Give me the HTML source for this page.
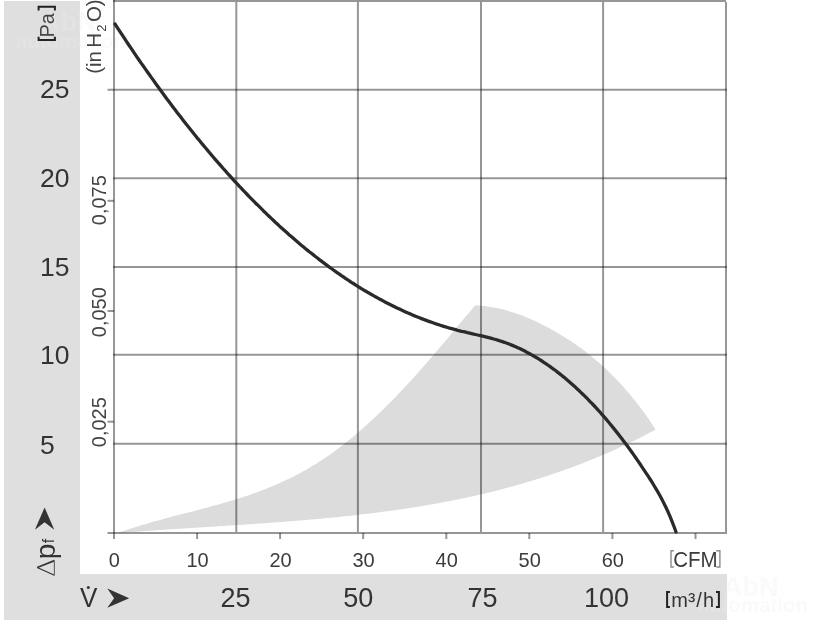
<!DOCTYPE html>
<html><head><meta charset="utf-8"><style>
html,body{margin:0;padding:0;background:#fff;width:816px;height:624px;overflow:hidden}
svg{display:block;will-change:transform}
text{font-family:"Liberation Sans",sans-serif}
</style></head><body>
<svg width="816" height="624" viewBox="0 0 816 624">
<rect x="4" y="1" width="76" height="619" fill="#dfdfdf"/>
<rect x="4" y="574" width="723" height="46" fill="#dfdfdf"/>
<g font-family="Liberation Sans" font-weight="bold" fill="#ececec" fill-opacity="0.28">
<text x="41" y="31" font-size="27">AbN</text>
<text x="16" y="48" font-size="20.4">automation</text>
<text x="723" y="596" font-size="27">AbN</text>
<text x="698" y="612" font-size="20.4">automation</text>
</g>
<path d="M118.0,533.0 L120.0,532.3 L122.0,531.6 L124.0,530.9 L126.0,530.2 L128.0,529.5 L130.0,528.8 L132.1,528.2 L134.1,527.5 L136.1,526.9 L138.1,526.3 L140.1,525.7 L142.1,525.0 L144.1,524.4 L146.1,523.9 L148.1,523.3 L150.1,522.7 L152.1,522.1 L154.1,521.5 L156.1,521.0 L158.1,520.4 L160.2,519.9 L162.2,519.3 L164.2,518.8 L166.2,518.2 L168.2,517.7 L170.2,517.2 L172.2,516.6 L174.2,516.1 L176.2,515.6 L178.2,515.1 L180.2,514.5 L182.2,514.0 L184.2,513.5 L186.2,513.0 L188.3,512.5 L190.3,511.9 L192.3,511.4 L194.3,510.9 L196.3,510.4 L198.3,509.9 L200.3,509.3 L202.3,508.8 L204.3,508.3 L206.3,507.7 L208.3,507.2 L210.3,506.7 L212.3,506.1 L214.4,505.6 L216.4,505.0 L218.4,504.5 L220.4,503.9 L222.4,503.3 L224.4,502.7 L226.4,502.2 L228.4,501.6 L230.4,501.0 L232.4,500.4 L234.4,499.8 L236.4,499.1 L238.4,498.5 L240.4,497.9 L242.5,497.2 L244.5,496.6 L246.5,495.9 L248.5,495.2 L250.5,494.5 L252.5,493.8 L254.5,493.1 L256.5,492.4 L258.5,491.6 L260.5,490.9 L262.5,490.1 L264.5,489.4 L266.5,488.6 L268.5,487.8 L270.6,486.9 L272.6,486.1 L274.6,485.3 L276.6,484.4 L278.6,483.5 L280.6,482.6 L282.6,481.7 L284.6,480.8 L286.6,479.8 L288.6,478.9 L290.6,477.9 L292.6,476.9 L294.6,475.9 L296.6,474.8 L298.7,473.8 L300.7,472.7 L302.7,471.6 L304.7,470.5 L306.7,469.4 L308.7,468.2 L310.7,467.0 L312.7,465.8 L314.7,464.6 L316.7,463.4 L318.7,462.1 L320.7,460.8 L322.7,459.5 L324.8,458.1 L326.8,456.8 L328.8,455.4 L330.8,454.0 L332.8,452.5 L334.8,451.1 L336.8,449.6 L338.8,448.1 L340.8,446.6 L342.8,445.0 L344.8,443.4 L346.8,441.8 L348.8,440.2 L350.8,438.6 L352.9,436.9 L354.9,435.2 L356.9,433.5 L358.9,431.8 L360.9,430.1 L362.9,428.3 L364.9,426.5 L366.9,424.7 L368.9,422.9 L370.9,421.0 L372.9,419.2 L374.9,417.3 L376.9,415.4 L378.9,413.5 L381.0,411.5 L383.0,409.6 L385.0,407.6 L387.0,405.6 L389.0,403.6 L391.0,401.6 L393.0,399.5 L395.0,397.5 L397.0,395.4 L399.0,393.3 L401.0,391.2 L403.0,389.0 L405.0,386.9 L407.1,384.7 L409.1,382.6 L411.1,380.4 L413.1,378.2 L415.1,376.0 L417.1,373.7 L419.1,371.5 L421.1,369.2 L423.1,367.0 L425.1,364.7 L427.1,362.4 L429.1,360.1 L431.1,357.7 L433.1,355.4 L435.2,353.0 L437.2,350.7 L439.2,348.3 L441.2,345.9 L443.2,343.6 L445.2,341.2 L447.2,338.8 L449.2,336.4 L451.2,334.0 L453.2,331.5 L455.2,329.1 L457.2,326.7 L459.2,324.3 L461.2,321.9 L463.3,319.5 L465.3,317.1 L467.3,314.7 L469.3,312.4 L471.3,310.0 L473.3,307.6 L475.3,305.3 L477.3,305.4 L479.3,305.5 L481.3,305.7 L483.3,305.9 L485.3,306.1 L487.3,306.4 L489.3,306.7 L491.3,307.0 L493.3,307.4 L495.3,307.8 L497.3,308.2 L499.3,308.6 L501.3,309.1 L503.3,309.6 L505.4,310.1 L507.4,310.7 L509.4,311.3 L511.4,311.9 L513.4,312.5 L515.4,313.2 L517.4,313.9 L519.4,314.6 L521.4,315.3 L523.4,316.1 L525.4,316.9 L527.4,317.7 L529.4,318.6 L531.4,319.4 L533.4,320.3 L535.4,321.3 L537.4,322.2 L539.4,323.2 L541.4,324.2 L543.4,325.2 L545.4,326.2 L547.4,327.3 L549.4,328.3 L551.4,329.4 L553.4,330.6 L555.4,331.7 L557.4,332.9 L559.4,334.0 L561.4,335.3 L563.4,336.5 L565.5,337.7 L567.5,339.0 L569.5,340.3 L571.5,341.6 L573.5,343.0 L575.5,344.3 L577.5,345.7 L579.5,347.2 L581.5,348.6 L583.5,350.1 L585.5,351.6 L587.5,353.2 L589.5,354.7 L591.5,356.3 L593.5,358.0 L595.5,359.7 L597.5,361.4 L599.5,363.1 L601.5,364.9 L603.5,366.7 L605.5,368.6 L607.5,370.5 L609.5,372.4 L611.5,374.4 L613.5,376.4 L615.5,378.5 L617.5,380.6 L619.5,382.7 L621.5,384.9 L623.5,387.1 L625.5,389.4 L627.6,391.7 L629.6,394.1 L631.6,396.5 L633.6,399.0 L635.6,401.5 L637.6,404.0 L639.6,406.6 L641.6,409.3 L643.6,412.0 L645.6,414.8 L647.6,417.6 L649.6,420.5 L651.6,423.4 L653.6,426.4 L655.6,429.5 L653.6,430.7 L651.6,431.7 L649.6,432.8 L647.6,433.8 L645.6,434.8 L643.6,435.9 L641.6,436.9 L639.6,437.9 L637.5,438.9 L635.5,439.9 L633.5,440.9 L631.5,441.8 L629.5,442.8 L627.5,443.8 L625.5,444.7 L623.5,445.7 L621.5,446.6 L619.5,447.5 L617.5,448.4 L615.5,449.4 L613.5,450.3 L611.5,451.2 L609.5,452.0 L607.5,452.9 L605.5,453.8 L603.4,454.7 L601.4,455.5 L599.4,456.4 L597.4,457.2 L595.4,458.0 L593.4,458.9 L591.4,459.7 L589.4,460.5 L587.4,461.3 L585.4,462.1 L583.4,462.9 L581.4,463.7 L579.4,464.4 L577.4,465.2 L575.4,466.0 L573.4,466.7 L571.3,467.4 L569.3,468.2 L567.3,468.9 L565.3,469.6 L563.3,470.4 L561.3,471.1 L559.3,471.8 L557.3,472.5 L555.3,473.2 L553.3,473.8 L551.3,474.5 L549.3,475.2 L547.3,475.9 L545.3,476.5 L543.3,477.2 L541.3,477.8 L539.3,478.4 L537.2,479.1 L535.2,479.7 L533.2,480.3 L531.2,480.9 L529.2,481.5 L527.2,482.1 L525.2,482.7 L523.2,483.3 L521.2,483.9 L519.2,484.5 L517.2,485.1 L515.2,485.6 L513.2,486.2 L511.2,486.7 L509.2,487.3 L507.2,487.8 L505.2,488.3 L503.1,488.9 L501.1,489.4 L499.1,489.9 L497.1,490.4 L495.1,490.9 L493.1,491.4 L491.1,491.9 L489.1,492.4 L487.1,492.9 L485.1,493.4 L483.1,493.9 L481.1,494.3 L479.1,494.8 L477.1,495.3 L475.1,495.7 L473.1,496.2 L471.1,496.6 L469.0,497.1 L467.0,497.5 L465.0,497.9 L463.0,498.3 L461.0,498.8 L459.0,499.2 L457.0,499.6 L455.0,500.0 L453.0,500.4 L451.0,500.8 L449.0,501.2 L447.0,501.6 L445.0,502.0 L443.0,502.3 L441.0,502.7 L439.0,503.1 L436.9,503.4 L434.9,503.8 L432.9,504.2 L430.9,504.5 L428.9,504.9 L426.9,505.2 L424.9,505.5 L422.9,505.9 L420.9,506.2 L418.9,506.5 L416.9,506.9 L414.9,507.2 L412.9,507.5 L410.9,507.8 L408.9,508.1 L406.9,508.4 L404.9,508.7 L402.8,509.0 L400.8,509.3 L398.8,509.6 L396.8,509.9 L394.8,510.2 L392.8,510.5 L390.8,510.8 L388.8,511.0 L386.8,511.3 L384.8,511.6 L382.8,511.8 L380.8,512.1 L378.8,512.4 L376.8,512.6 L374.8,512.9 L372.8,513.1 L370.8,513.4 L368.7,513.6 L366.7,513.9 L364.7,514.1 L362.7,514.3 L360.7,514.6 L358.7,514.8 L356.7,515.0 L354.7,515.2 L352.7,515.5 L350.7,515.7 L348.7,515.9 L346.7,516.1 L344.7,516.3 L342.7,516.5 L340.7,516.7 L338.7,517.0 L336.7,517.2 L334.6,517.4 L332.6,517.6 L330.6,517.7 L328.6,517.9 L326.6,518.1 L324.6,518.3 L322.6,518.5 L320.6,518.7 L318.6,518.9 L316.6,519.1 L314.6,519.2 L312.6,519.4 L310.6,519.6 L308.6,519.8 L306.6,519.9 L304.6,520.1 L302.5,520.3 L300.5,520.5 L298.5,520.6 L296.5,520.8 L294.5,520.9 L292.5,521.1 L290.5,521.3 L288.5,521.4 L286.5,521.6 L284.5,521.7 L282.5,521.9 L280.5,522.0 L278.5,522.2 L276.5,522.3 L274.5,522.5 L272.5,522.6 L270.5,522.8 L268.4,522.9 L266.4,523.1 L264.4,523.2 L262.4,523.4 L260.4,523.5 L258.4,523.6 L256.4,523.8 L254.4,523.9 L252.4,524.0 L250.4,524.2 L248.4,524.3 L246.4,524.5 L244.4,524.6 L242.4,524.7 L240.4,524.9 L238.4,525.0 L236.4,525.1 L234.3,525.2 L232.3,525.4 L230.3,525.5 L228.3,525.6 L226.3,525.8 L224.3,525.9 L222.3,526.0 L220.3,526.1 L218.3,526.3 L216.3,526.4 L214.3,526.5 L212.3,526.7 L210.3,526.8 L208.3,526.9 L206.3,527.0 L204.3,527.2 L202.3,527.3 L200.2,527.4 L198.2,527.5 L196.2,527.7 L194.2,527.8 L192.2,527.9 L190.2,528.0 L188.2,528.2 L186.2,528.3 L184.2,528.4 L182.2,528.6 L180.2,528.7 L178.2,528.8 L176.2,528.9 L174.2,529.1 L172.2,529.2 L170.2,529.3 L168.1,529.5 L166.1,529.6 L164.1,529.7 L162.1,529.9 L160.1,530.0 L158.1,530.1 L156.1,530.3 L154.1,530.4 L152.1,530.5 L150.1,530.7 L148.1,530.8 L146.1,531.0 L144.1,531.1 L142.1,531.2 L140.1,531.4 L138.1,531.5 L136.1,531.7 L134.0,531.8 L132.0,532.0 L130.0,532.1 L128.0,532.3 L126.0,532.4 L124.0,532.6 L122.0,532.7 L120.0,532.9 L118.0,533.0 Z" fill="#dcdcdc"/>
<g stroke="#000" stroke-opacity="0.41" stroke-width="2" fill="none">
<line x1="114" y1="0" x2="114" y2="539"/>
<line x1="236.3" y1="1.9" x2="236.3" y2="532"/>
<line x1="357.9" y1="1.9" x2="357.9" y2="532"/>
<line x1="481" y1="1.9" x2="481" y2="532"/>
<line x1="603.1" y1="1.9" x2="603.1" y2="532"/>
<line x1="726" y1="1.9" x2="726" y2="532"/>
<line x1="113" y1="0.9" x2="726" y2="0.9"/>
<line x1="107.5" y1="89.7" x2="727" y2="89.7"/>
<line x1="113" y1="178.3" x2="727" y2="178.3"/>
<line x1="113" y1="267" x2="727" y2="267"/>
<line x1="113" y1="354.8" x2="727" y2="354.8"/>
<line x1="113" y1="443.8" x2="727" y2="443.8"/>
<line x1="107.5" y1="533" x2="727" y2="533"/>
<line x1="197.1" y1="533" x2="197.1" y2="539"/>
<line x1="280.1" y1="533" x2="280.1" y2="539"/>
<line x1="363.2" y1="533" x2="363.2" y2="539"/>
<line x1="446.3" y1="533" x2="446.3" y2="539"/>
<line x1="529.3" y1="533" x2="529.3" y2="539"/>
<line x1="612.4" y1="533" x2="612.4" y2="539"/>
<line x1="695.5" y1="533" x2="695.5" y2="539"/>
<line x1="107.5" y1="200.8" x2="114" y2="200.8"/>
<line x1="107.5" y1="311" x2="114" y2="311"/>
<line x1="107.5" y1="421.7" x2="114" y2="421.7"/>
</g>
<path d="M115.0,24.0 L117.0,27.1 L119.0,30.1 L121.0,33.2 L123.0,36.2 L125.0,39.2 L127.0,42.3 L129.0,45.2 L131.0,48.2 L133.0,51.2 L135.0,54.1 L137.0,57.1 L139.0,60.0 L141.0,62.9 L143.1,65.8 L145.1,68.6 L147.1,71.5 L149.1,74.3 L151.1,77.1 L153.1,79.9 L155.1,82.7 L157.1,85.5 L159.1,88.3 L161.1,91.0 L163.1,93.7 L165.1,96.5 L167.1,99.2 L169.1,101.8 L171.1,104.5 L173.1,107.2 L175.1,109.8 L177.1,112.4 L179.1,115.0 L181.1,117.6 L183.1,120.2 L185.1,122.8 L187.1,125.3 L189.1,127.8 L191.1,130.3 L193.1,132.8 L195.1,135.3 L197.1,137.8 L199.2,140.2 L201.2,142.7 L203.2,145.1 L205.2,147.5 L207.2,149.9 L209.2,152.3 L211.2,154.6 L213.2,157.0 L215.2,159.3 L217.2,161.6 L219.2,163.9 L221.2,166.2 L223.2,168.5 L225.2,170.7 L227.2,173.0 L229.2,175.2 L231.2,177.4 L233.2,179.6 L235.2,181.8 L237.2,183.9 L239.2,186.1 L241.2,188.2 L243.2,190.3 L245.2,192.4 L247.2,194.5 L249.2,196.6 L251.2,198.7 L253.2,200.7 L255.2,202.7 L257.3,204.7 L259.3,206.7 L261.3,208.7 L263.3,210.7 L265.3,212.6 L267.3,214.6 L269.3,216.5 L271.3,218.4 L273.3,220.3 L275.3,222.2 L277.3,224.0 L279.3,225.9 L281.3,227.7 L283.3,229.5 L285.3,231.3 L287.3,233.1 L289.3,234.9 L291.3,236.6 L293.3,238.3 L295.3,240.1 L297.3,241.8 L299.3,243.5 L301.3,245.2 L303.3,246.8 L305.3,248.5 L307.3,250.1 L309.3,251.7 L311.4,253.3 L313.4,254.9 L315.4,256.5 L317.4,258.0 L319.4,259.6 L321.4,261.1 L323.4,262.6 L325.4,264.1 L327.4,265.6 L329.4,267.1 L331.4,268.5 L333.4,270.0 L335.4,271.4 L337.4,272.8 L339.4,274.2 L341.4,275.6 L343.4,276.9 L345.4,278.3 L347.4,279.6 L349.4,281.0 L351.4,282.3 L353.4,283.5 L355.4,284.8 L357.4,286.1 L359.4,287.3 L361.4,288.6 L363.4,289.8 L365.4,291.0 L367.4,292.2 L369.5,293.3 L371.5,294.5 L373.5,295.6 L375.5,296.8 L377.5,297.9 L379.5,299.0 L381.5,300.0 L383.5,301.1 L385.5,302.2 L387.5,303.2 L389.5,304.2 L391.5,305.2 L393.5,306.2 L395.5,307.2 L397.5,308.2 L399.5,309.1 L401.5,310.1 L403.5,311.0 L405.5,311.9 L407.5,312.8 L409.5,313.6 L411.5,314.5 L413.5,315.4 L415.5,316.2 L417.5,317.0 L419.5,317.8 L421.5,318.6 L423.6,319.4 L425.6,320.1 L427.6,320.9 L429.6,321.6 L431.6,322.3 L433.6,323.0 L435.6,323.7 L437.6,324.4 L439.6,325.0 L441.6,325.7 L443.6,326.3 L445.6,326.9 L447.6,327.5 L449.6,328.1 L451.6,328.6 L453.6,329.2 L455.6,329.7 L457.6,330.3 L459.6,330.8 L461.6,331.3 L463.6,331.7 L465.6,332.2 L467.6,332.7 L469.6,333.1 L471.6,333.6 L473.6,334.1 L475.6,334.5 L477.6,335.0 L479.6,335.4 L481.7,335.9 L483.7,336.4 L485.7,336.9 L487.7,337.4 L489.7,337.9 L491.7,338.4 L493.7,339.0 L495.7,339.5 L497.7,340.1 L499.7,340.8 L501.7,341.4 L503.7,342.1 L505.7,342.8 L507.7,343.5 L509.7,344.3 L511.7,345.1 L513.7,345.9 L515.7,346.8 L517.7,347.7 L519.7,348.6 L521.7,349.6 L523.7,350.6 L525.7,351.6 L527.7,352.7 L529.7,353.8 L531.7,354.9 L533.7,356.0 L535.8,357.2 L537.8,358.4 L539.8,359.7 L541.8,361.0 L543.8,362.3 L545.8,363.6 L547.8,365.0 L549.8,366.4 L551.8,367.9 L553.8,369.3 L555.8,370.8 L557.8,372.4 L559.8,373.9 L561.8,375.5 L563.8,377.1 L565.8,378.8 L567.8,380.5 L569.8,382.2 L571.8,384.0 L573.8,385.8 L575.8,387.6 L577.8,389.5 L579.8,391.3 L581.8,393.3 L583.8,395.2 L585.8,397.2 L587.8,399.2 L589.8,401.3 L591.9,403.4 L593.9,405.5 L595.9,407.6 L597.9,409.8 L599.9,412.0 L601.9,414.3 L603.9,416.6 L605.9,418.9 L607.9,421.3 L609.9,423.7 L611.9,426.1 L613.9,428.6 L615.9,431.1 L617.9,433.6 L619.9,436.2 L621.9,438.8 L623.9,441.4 L625.9,444.1 L627.9,446.8 L629.9,449.5 L631.9,452.3 L633.9,455.1 L635.9,458.0 L637.9,460.9 L639.9,463.8 L641.9,466.8 L643.9,469.8 L645.9,472.8 L648.0,475.9 L650.0,479.0 L652.0,482.2 L654.0,485.5 L656.0,488.8 L658.0,492.2 L660.0,495.8 L662.0,499.5 L664.0,503.4 L666.0,507.5 L668.0,511.8 L670.0,516.4 L672.0,521.3 L674.0,526.5 L676.0,532.0 " fill="none" stroke="#2a2a2a" stroke-width="3.3" stroke-linecap="round" stroke-linejoin="round"/>
<g fill="#333" font-size="26.5"><text x="40" y="98.3">25</text><text x="40" y="186.8">20</text><text x="40" y="275.6">15</text><text x="40" y="364.2">10</text><text x="40" y="454">5</text></g>
<g fill="#3c3c3c" font-size="21" text-anchor="middle"><text x="114.4" y="566.6" textLength="11.12" lengthAdjust="spacingAndGlyphs">0</text><text x="197.5" y="566.6" textLength="22.24" lengthAdjust="spacingAndGlyphs">10</text><text x="280.5" y="566.6" textLength="22.24" lengthAdjust="spacingAndGlyphs">20</text><text x="363.6" y="566.6" textLength="22.24" lengthAdjust="spacingAndGlyphs">30</text><text x="446.7" y="566.6" textLength="22.24" lengthAdjust="spacingAndGlyphs">40</text><text x="529.7" y="566.6" textLength="22.24" lengthAdjust="spacingAndGlyphs">50</text><text x="612.8" y="566.6" textLength="22.24" lengthAdjust="spacingAndGlyphs">60</text></g>
<text x="673.3" y="566.6" font-size="21.5" textLength="44.4" lengthAdjust="spacingAndGlyphs" fill="#3c3c3c">CFM</text>
<path d="M673.9,550.8 H671 V567 H673.9 M716.2,550.8 H719.9 V567 H716.2" fill="none" stroke="#8c8c8c" stroke-width="1.4"/>
<g fill="#333" font-size="27" text-anchor="middle">
<text x="235.5" y="607">25</text>
<text x="358.2" y="607">50</text>
<text x="482.5" y="607">75</text>
<text x="606.5" y="607">100</text>
</g>
<text y="607" font-size="20" fill="#333"><tspan x="671.2">m</tspan><tspan x="696.2">/</tspan><tspan x="703">h</tspan></text><text x="688" y="608" font-size="22" fill="#333">³</text>
<path d="M669.9,592 H667.1 V607 H669.9 M716,592 H718.9 V607 H716" fill="none" stroke="#222" stroke-width="2"/>
<text x="80" y="607.4" font-size="28" fill="#333" textLength="17.4" lengthAdjust="spacingAndGlyphs">V</text>
<circle cx="88.3" cy="587.4" r="1.5" fill="#333"/>
<polygon points="107.3,588.4 129.2,598.2 107.3,607.8 114.1,598.3" fill="#333"/>
<polygon points="44.6,507.5 54.3,529.7 44.6,522.2 34.9,529.7" fill="#333"/>
<g stroke="#333" fill="none"><path d="M54.4,560.6 L37.2,567.5" stroke-width="1.7"/><path d="M37.2,567.5 L54.4,575.2" stroke-width="1.25"/><path d="M54.4,560.2 V575.6" stroke="#6a6a6a" stroke-width="1.2"/></g>
<g fill="#333"><g transform="translate(55.2,559.2) rotate(-90)" ><text font-size="26.8" textLength="15.6" lengthAdjust="spacingAndGlyphs">p</text></g>
<g transform="translate(54.2,543.2) rotate(-90)" ><text font-size="16">f</text></g></g>
<g fill="#444"><g transform="translate(53.5,37.5) rotate(-90)" ><text font-size="20">Pa</text></g></g>
<path d="M38.6,36.8 V40 H54.9 V36.8 M38.6,10.4 V6.8 H54.9 V10.4" fill="none" stroke="#222" stroke-width="2"/>
<g fill="#444" font-size="20.5">
<g transform="translate(101.2,73.8) rotate(-90)" ><text><tspan x="0">(in</tspan><tspan x="26.1">H</tspan><tspan x="42" font-size="13" dy="5">2</tspan><tspan x="51.7" dy="-5">O)</tspan></text></g>
<g transform="translate(105.6,225.2) rotate(-90)" ><text font-size="20">0,075</text></g>
<g transform="translate(105.6,337.2) rotate(-90)" ><text font-size="20">0,050</text></g>
<g transform="translate(105.6,447.2) rotate(-90)" ><text font-size="20">0,025</text></g>
</g>
</svg>
</body></html>
